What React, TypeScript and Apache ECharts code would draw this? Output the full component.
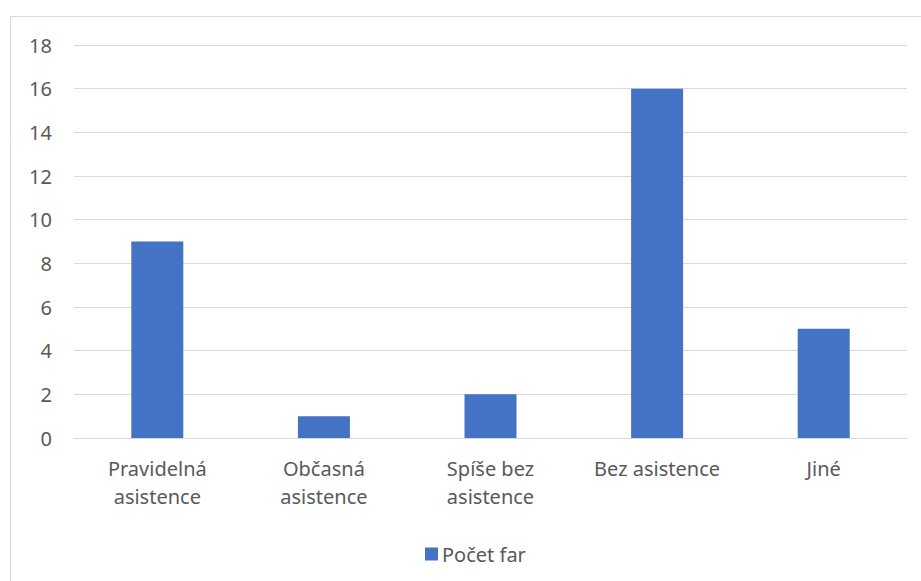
import React, { useEffect, useRef } from "react";
import * as echarts from "echarts";

const categories = ["Pravidelná\nasistence", "Občasná\nasistence", "Spíše bez\nasistence", "Bez asistence", "Jiné"];
const seriesName = "Počet far";
const values = [9, 1, 2, 16, 5];
const yMin = 0;
const yMax = 18;
const yStep = 2;

const FONT = "Noto Sans";
const TEXT = "#595959";
const GRID = "#d9d9d9";

export default function App() {
  const ref = useRef<HTMLDivElement>(null);
  useEffect(() => {
    if (!ref.current) return;
    const chart = echarts.init(ref.current, null, { renderer: "svg" });
    chart.setOption({
      animation: false,
      backgroundColor: "#ffffff",
      textStyle: { fontFamily: FONT },
      graphic: [
        {
          type: "rect",
          shape: { x: 10.5, y: 16.5, width: 940, height: 600 },
          style: { fill: "none", stroke: GRID, lineWidth: 1 },
          silent: true,
          z: -1,
        },
      ],
      grid: { left: 74, right: 14, top: 45, bottom: 143, containLabel: false },
      legend: {
        show: true,
        left: 420,
        top: 539,
        icon: "rect",
        itemWidth: 13,
        itemHeight: 13,
        itemGap: 10,
        textStyle: { color: TEXT, fontSize: 20, fontFamily: FONT, padding: [0, 0, 0, -1] },
        data: [seriesName],
      },
      xAxis: {
        type: "category",
        data: categories,
        axisLine: { show: true, lineStyle: { color: GRID, width: 1 } },
        axisTick: { show: false },
        axisLabel: {
          color: TEXT,
          fontSize: 20,
          fontFamily: FONT,
          lineHeight: 28,
          margin: 16,
          interval: 0,
        },
      },
      yAxis: {
        type: "value",
        min: yMin,
        max: yMax,
        interval: yStep,
        axisLine: { show: false },
        axisTick: { show: false },
        splitLine: { lineStyle: { color: GRID, width: 1 } },
        axisLabel: { color: TEXT, fontSize: 20, fontFamily: FONT, margin: 22 },
      },
      series: [
        {
          name: seriesName,
          type: "bar",
          data: values,
          barWidth: 52,
          itemStyle: { color: "#4472C4" },
        },
      ],
    });
    return () => chart.dispose();
  }, []);
  return (
    <div
      ref={ref}
      style={{ position: "absolute", left: 0, top: 0, width: 921, height: 581 }}
    />
  );
}
